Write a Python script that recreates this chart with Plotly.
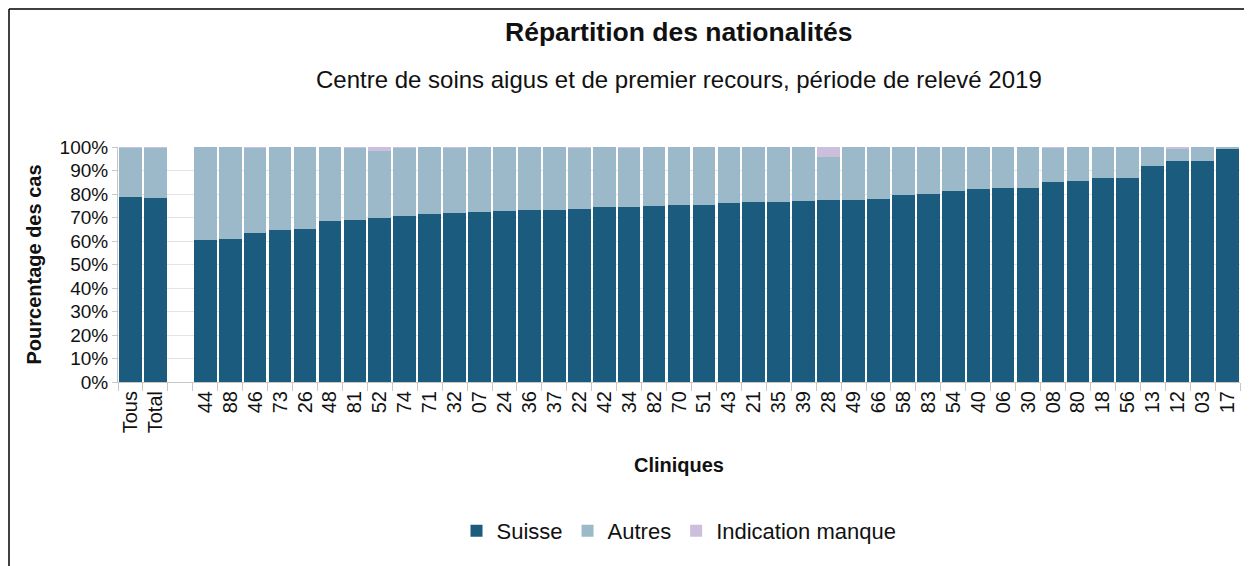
import plotly.graph_objects as go

categories = ["Tous", "Total", " ", "44", "88", "46", "73", "26", "48", "81", "52", "74", "71",
              "32", "07", "24", "36", "37", "22", "42", "34", "82", "70", "51", "43", "21", "35",
              "39", "28", "49", "66", "58", "83", "54", "40", "06", "30", "08", "80", "18", "56",
              "13", "12", "03", "17"]

suisse = [78.9, 78.1, 0, 60.3, 60.9, 63.3, 64.7, 65.0, 68.4, 69.1, 69.8, 70.6, 71.4,
          71.8, 72.5, 72.7, 73.1, 73.4, 73.5, 74.4, 74.5, 75.1, 75.3, 75.4, 76.1, 76.4, 76.7,
          77.2, 77.4, 77.6, 77.9, 79.4, 79.8, 81.1, 82.1, 82.5, 82.6, 85.3, 85.5, 86.9, 87.0,
          91.9, 94.0, 94.0, 99.3]

indication = [0.2, 0.1, 0, 0, 0, 0.3, 0, 0, 0, 0.3, 1.5, 0.4, 0,
              0.4, 0, 0, 0, 0, 0.3, 0, 0.4, 0, 0, 0, 0, 0, 0,
              0, 4.4, 0, 0, 0, 0, 0, 0, 0, 0, 0.3, 0, 0, 0,
              0, 1.0, 0, 0]

autres = [0 if c == " " else round(100 - s - i, 1) for c, s, i in zip(categories, suisse, indication)]

series_names = ["Suisse", "Autres", "Indication manque"]
series_colors = ["#1b5c7e", "#9bb9c9", "#cbbfdb"]

FONT = "Liberation Sans, Arial, sans-serif"

fig = go.Figure()
for name, vals, col in zip(series_names, [suisse, autres, indication], series_colors):
    fig.add_trace(go.Bar(
        x=categories, y=vals, name=name,
        marker=dict(color=col, line=dict(width=0)),
        hovertemplate="%{x}: %{y:.1f}%<extra>" + name + "</extra>",
    ))

# page has an 8px body margin: figure coords = page coords - 8
OFF = 8
W, H = 1252 - OFF, 566 - OFF
L, R, T = 118 - OFF, 1252 - 1240, 147 - OFF
B = H - (382 - OFF)
pw, ph = W - L - R, H - T - B

def px(xp):
    return (xp - OFF - L) / pw

def py(yp):
    return (H - B - (yp - OFF)) / ph

fig.update_layout(
    width=W, height=H,
    barmode="stack", bargap=0.09,
    plot_bgcolor="white", paper_bgcolor="white",
    margin=dict(l=L, r=R, t=T, b=B, autoexpand=False),
    font=dict(family=FONT, size=19, color="#111111"),
    showlegend=True,
    legend=dict(orientation="h", x=0.5, xanchor="center", y=py(531), yanchor="middle",
                font=dict(size=22, family=FONT), itemsizing="constant", traceorder="normal"),
    xaxis=dict(
        type="category", tickangle=-90, tickson="boundaries",
        ticks="outside", ticklen=8, tickcolor="#c8c8c8", tickwidth=1,
        showline=True, linecolor="#c8c8c8", linewidth=1,
        showgrid=False, tickfont=dict(size=20, family=FONT, color="#111111"),
        title=dict(text="<b>Cliniques</b>", font=dict(size=20, family=FONT), standoff=25),
        range=[-0.5, len(categories) - 0.5],
    ),
    yaxis=dict(
        range=[0, 100], dtick=10, ticksuffix="%",
        showgrid=True, gridcolor="#e3e3e3", gridwidth=1,
        ticks="outside", ticklen=5, tickcolor="#c8c8c8",
        showline=True, linecolor="#c8c8c8", linewidth=1,
        tickfont=dict(size=19, family=FONT, color="#111111"),
        title=dict(text="<b>Pourcentage des cas</b>", font=dict(size=20, family=FONT), standoff=12),
        zeroline=False,
    ),
    annotations=[
        dict(text="<b>Répartition des nationalités</b>", xref="paper", yref="paper",
             x=0.5, y=py(32), xanchor="center", yanchor="middle", showarrow=False,
             font=dict(size=26.5, family=FONT, color="#111111")),
        dict(text="Centre de soins aigus et de premier recours, période de relevé 2019",
             xref="paper", yref="paper", x=0.5, y=py(80), xanchor="center", yanchor="middle",
             showarrow=False, font=dict(size=24, family=FONT, color="#111111")),
    ],
    shapes=[
        dict(type="line", xref="paper", yref="paper", x0=px(9), x1=px(9), y0=py(566), y1=py(9),
             line=dict(color="black", width=1.5)),
        dict(type="line", xref="paper", yref="paper", x0=px(9), x1=px(1252), y0=py(9), y1=py(9),
             line=dict(color="black", width=1.5)),
    ],
)

fig.write_html("out.html")
